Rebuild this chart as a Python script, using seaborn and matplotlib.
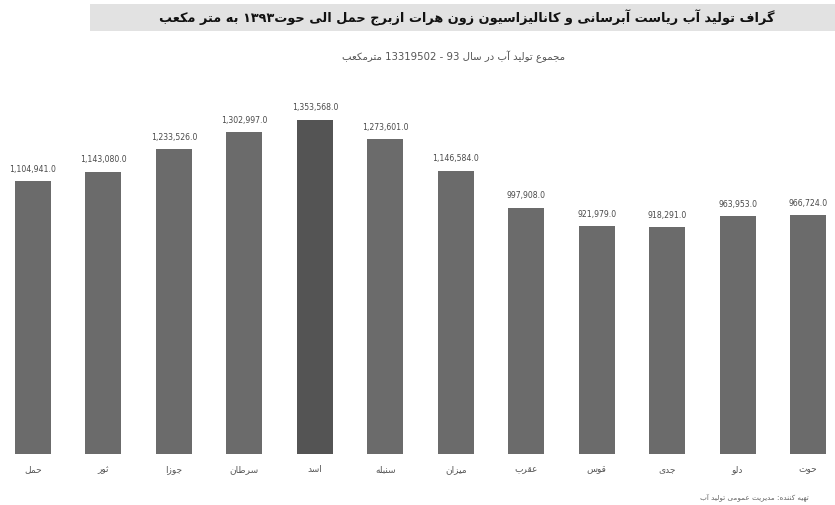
import matplotlib
matplotlib.use("Agg")
import matplotlib.pyplot as plt
import seaborn as sns
import pandas as pd
from matplotlib import font_manager
from matplotlib.ft2font import FT2Font
from matplotlib.patches import Rectangle

# ---------------- data ----------------
months = ['حمل', 'ثور', 'جوزا', 'سرطان', 'اسد', 'سنبله', 'میزان',
          'عقرب', 'قوس', 'جدی', 'دلو', 'حوت']
values = [1104941.0, 1143080.0, 1233526.0, 1302997.0, 1353568.0, 1273601.0,
          1146584.0, 997908.0, 921979.0, 918291.0, 963953.0, 966724.0]
bar_colors = ['#6b6b6b'] * 4 + ['#545454'] + ['#6b6b6b'] * 7
title_words = ['گراف', 'تولید', 'آب', 'ریاست', 'آبرسانی', 'و', 'کانالیزاسیون', 'زون',
               'هرات', 'ازبرج', 'حمل', 'الی', 'حوت۱۳۹۳', 'به', 'متر', 'مکعب']
subtitle_words = ['مجموع', 'تولید', 'آب', 'در', 'سال', '93', '-', '13319502', 'مترمکعب']
footer_words = ['تهیه', 'کننده:', 'مدیریت', 'عمومی', 'تولید', 'آب']

# ---------------- minimal Arabic-script shaping ----------------
DUAL = {
    'ب': 'ﺏﺐﺑﺒ', 'ت': 'ﺕﺖﺗﺘ', 'ث': 'ﺙﺚﺛﺜ', 'ج': 'ﺝﺞﺟﺠ', 'ح': 'ﺡﺢﺣﺤ',
    'خ': 'ﺥﺦﺧﺨ', 'س': 'ﺱﺲﺳﺴ', 'ش': 'ﺵﺶﺷﺸ', 'ص': 'ﺹﺺﺻﺼ', 'ط': 'ﻁﻂﻃﻄ',
    'ع': 'ﻉﻊﻋﻌ', 'غ': 'ﻍﻎﻏﻐ', 'ف': 'ﻑﻒﻓﻔ', 'ق': 'ﻕﻖﻗﻘ', 'ك': 'ﻙﻚﻛﻜ',
    'ل': 'ﻝﻞﻟﻠ', 'م': 'ﻡﻢﻣﻤ', 'ن': 'ﻥﻦﻧﻨ', 'ه': 'ﻩﻪﻫﻬ', 'ي': 'ﻱﻲﻳﻴ',
    'ی': '\ufbfc\ufbfd\ufbfe\ufbff', 'ک': '\ufb8e\ufb8f\ufb90\ufb91',
    'گ': '\ufb92\ufb93\ufb94\ufb95', 'پ': '\ufb56\ufb57\ufb58\ufb59',
    'چ': '\ufb7a\ufb7b\ufb7c\ufb7d',
}
FALLBACK = {'ی': 'ي', 'ک': 'ك'}
RIGHT = {
    'ا': 'ﺍﺎ', 'آ': 'ﺁﺂ', 'د': 'ﺩﺪ', 'ذ': 'ﺫﺬ', 'ر': 'ﺭﺮ', 'ز': 'ﺯﺰ',
    'و': 'ﻭﻮ', 'ة': 'ﺓﺔ',
}

_font = FT2Font(font_manager.findfont('DejaVu Sans'))
_cmap = _font.get_charmap()


def _has(ch):
    return ord(ch) in _cmap


def shape_word(word):
    chars = list(word)
    out = []
    for i, c in enumerate(chars):
        prev = chars[i - 1] if i > 0 else None
        nxt = chars[i + 1] if i + 1 < len(chars) else None
        joins_prev = prev is not None and prev in DUAL and (c in DUAL or c in RIGHT)
        if c in DUAL:
            joins_next = nxt is not None and (nxt in DUAL or nxt in RIGHT)
            forms = DUAL[c]
            if joins_prev and joins_next:
                k = 3
            elif joins_prev:
                k = 1
            elif joins_next:
                k = 2
            else:
                k = 0
            g = forms[k]
            if not _has(g) and c in FALLBACK:
                g = DUAL[FALLBACK[c]][k]
            out.append(g)
        elif c in RIGHT:
            out.append(RIGHT[c][1] if joins_prev else RIGHT[c][0])
        else:
            out.append(c)
    # visual order: reverse letters, but keep digit runs left-to-right
    segs, cur, curdig = [], '', None
    for g in out:
        d = g.isdigit() or g in ',.'
        if curdig is None or d == curdig:
            cur += g
        else:
            segs.append((cur, curdig))
            cur = g
        curdig = d
    if cur:
        segs.append((cur, curdig))
    res = ''
    for s, d in reversed(segs):
        res += s if d else s[::-1]
    return res


def visual(words):
    # right-to-left line: last word is drawn leftmost
    return ' '.join(shape_word(w) for w in reversed(words))


# ---------------- plot ----------------
df = pd.DataFrame({'month': months, 'value': values})

fig = plt.figure(figsize=(8.35, 5.06), dpi=100)
fig.patch.set_facecolor('white')
ax = fig.add_axes([0.0, 0.1008, 1.0, 0.70])

sns.barplot(data=df, x='month', y='value', hue='month', palette=bar_colors,
            legend=False, width=0.51, saturation=1, ax=ax)

ax.set_xlim(-0.468, 11.383)
ax.set_ylim(0, 1434000)
for c in ax.containers:
    ax.bar_label(c, labels=[f'{v:,.1f}' for v in c.datavalues], padding=6,
                 fontsize=5.6, color='#4a4a4a')

ax.set_xticks(range(len(months)))
ax.set_xticklabels([shape_word(m) for m in months], fontsize=6.5, color='#555555')
ax.tick_params(axis='x', length=0, pad=7)
ax.set_yticks([])
ax.set_xlabel('')
ax.set_ylabel('')
for s in ax.spines.values():
    s.set_visible(False)
ax.set_facecolor('white')

# title band
fig.patches.append(Rectangle((90 / 835, 1 - 32 / 506), 745 / 835, 27 / 506,
                             transform=fig.transFigure, facecolor='#e2e2e2',
                             edgecolor='none', zorder=0))
fig.text(467 / 835, 1 - 18 / 506, visual(title_words), ha='center', va='center',
         fontsize=9.3, fontweight='bold', color='#111111')
fig.text(453 / 835, 1 - 57 / 506, visual(subtitle_words), ha='center', va='center',
         fontsize=7.3, color='#555555')
fig.text(700 / 835, 1 - 497 / 506, visual(footer_words), ha='left', va='center',
         fontsize=5.2, color='#666666')

fig.savefig('out.png', dpi=100, facecolor='white')
